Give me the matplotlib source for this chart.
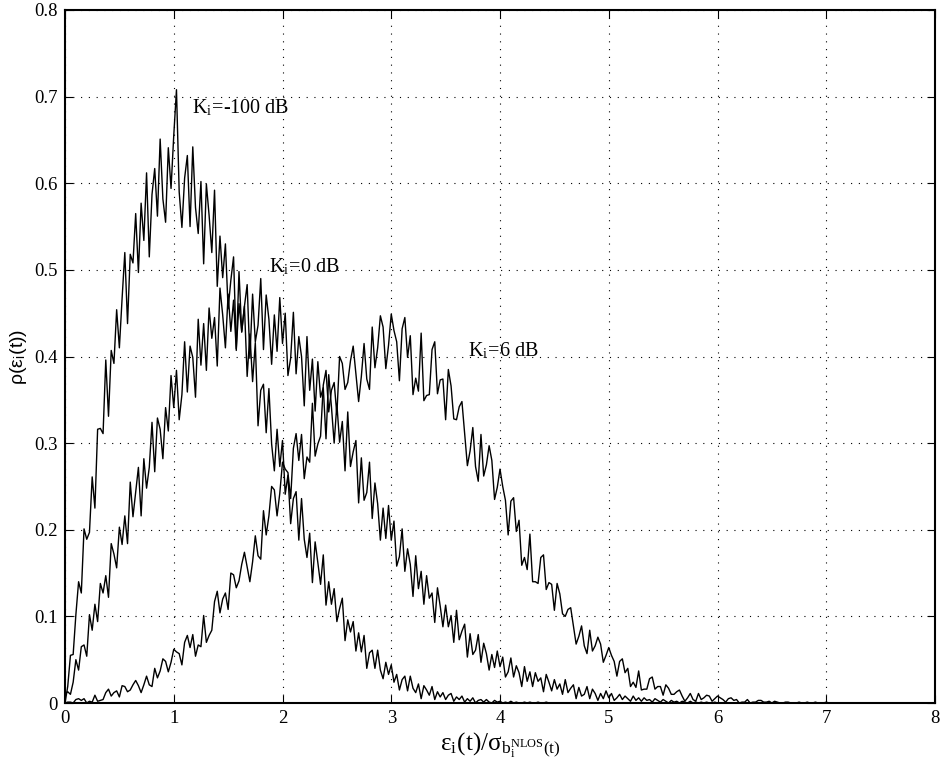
import numpy as np
import matplotlib
matplotlib.use("Agg")
import matplotlib.pyplot as plt

plt.rcParams['font.family'] = ['Liberation Serif', 'DejaVu Serif']
plt.rcParams['mathtext.fontset'] = 'stix'

bin_width = 0.025

# K_i = -100 dB  (histogram values, x = 0 .. 4.5)
pdf_k_m100 = [
    0.000, 0.019, 0.055, 0.056, 0.102, 0.140, 0.127, 0.201, 0.189, 0.197,
    0.261, 0.225, 0.316, 0.317, 0.311, 0.396, 0.331, 0.407, 0.392, 0.454,
    0.410, 0.467, 0.520, 0.438, 0.518, 0.508, 0.565, 0.497, 0.577, 0.534,
    0.612, 0.515, 0.587, 0.617, 0.562, 0.651, 0.582, 0.555, 0.641, 0.594,
    0.655, 0.708, 0.590, 0.549, 0.606, 0.632, 0.550, 0.642, 0.572, 0.542,
    0.602, 0.507, 0.599, 0.563, 0.520, 0.592, 0.481, 0.539, 0.491, 0.530,
    0.455, 0.488, 0.515, 0.409, 0.461, 0.429, 0.458, 0.377, 0.426, 0.371,
    0.416, 0.320, 0.361, 0.368, 0.312, 0.363, 0.299, 0.268, 0.316, 0.273,
    0.303, 0.241, 0.263, 0.207, 0.236, 0.244, 0.188, 0.236, 0.189, 0.168,
    0.196, 0.139, 0.186, 0.162, 0.137, 0.171, 0.113, 0.140, 0.114, 0.132,
    0.094, 0.109, 0.121, 0.072, 0.096, 0.082, 0.094, 0.060, 0.081, 0.059,
    0.078, 0.040, 0.058, 0.061, 0.040, 0.061, 0.038, 0.028, 0.047, 0.033,
    0.044, 0.024, 0.033, 0.015, 0.027, 0.031, 0.014, 0.031, 0.017, 0.012,
    0.022, 0.005, 0.020, 0.015, 0.009, 0.019, 0.004, 0.013, 0.007, 0.012,
    0.004, 0.009, 0.011, 0.002, 0.007, 0.004, 0.008, 0.001, 0.005, 0.002,
    0.006, 0.000, 0.003, 0.004, 0.001, 0.004, 0.001, 0.000, 0.003, 0.001,
    0.002, 0.000, 0.001, 0.000, 0.002, 0.000, 0.001, 0.000, 0.000, 0.001,
    0.000, 0.001, 0.000, 0.000, 0.001, 0.000, 0.000, 0.001, 0.000, 0.000,
    0.000,
]

# K_i = 0 dB  (x = 0 .. 6.0)
pdf_k_0 = [
    0.010, 0.013, 0.010, 0.024, 0.050, 0.038, 0.065, 0.067, 0.054, 0.102,
    0.084, 0.114, 0.094, 0.138, 0.127, 0.147, 0.122, 0.184, 0.172, 0.156,
    0.203, 0.183, 0.216, 0.184, 0.255, 0.215, 0.244, 0.272, 0.216, 0.282,
    0.248, 0.272, 0.324, 0.267, 0.329, 0.316, 0.282, 0.341, 0.314, 0.378,
    0.341, 0.384, 0.327, 0.356, 0.417, 0.359, 0.412, 0.399, 0.353, 0.443,
    0.390, 0.438, 0.384, 0.456, 0.421, 0.445, 0.389, 0.479, 0.448, 0.410,
    0.472, 0.429, 0.465, 0.407, 0.498, 0.428, 0.458, 0.483, 0.398, 0.472,
    0.417, 0.436, 0.490, 0.408, 0.471, 0.443, 0.391, 0.448, 0.406, 0.468,
    0.415, 0.450, 0.378, 0.398, 0.451, 0.380, 0.423, 0.400, 0.343, 0.423,
    0.361, 0.397, 0.337, 0.394, 0.353, 0.364, 0.305, 0.379, 0.342, 0.300,
    0.345, 0.301, 0.325, 0.268, 0.336, 0.273, 0.290, 0.303, 0.231, 0.283,
    0.234, 0.243, 0.278, 0.213, 0.254, 0.230, 0.188, 0.225, 0.190, 0.228,
    0.188, 0.210, 0.158, 0.169, 0.201, 0.152, 0.178, 0.160, 0.123, 0.170,
    0.132, 0.152, 0.114, 0.147, 0.121, 0.127, 0.093, 0.133, 0.112, 0.088,
    0.113, 0.088, 0.101, 0.070, 0.107, 0.073, 0.083, 0.091, 0.053, 0.080,
    0.056, 0.061, 0.079, 0.047, 0.069, 0.057, 0.038, 0.056, 0.041, 0.060,
    0.042, 0.053, 0.030, 0.036, 0.052, 0.030, 0.043, 0.035, 0.019, 0.042,
    0.025, 0.036, 0.019, 0.035, 0.025, 0.029, 0.013, 0.033, 0.024, 0.014,
    0.027, 0.016, 0.022, 0.010, 0.027, 0.012, 0.017, 0.021, 0.005, 0.018,
    0.008, 0.010, 0.019, 0.005, 0.016, 0.011, 0.003, 0.011, 0.005, 0.014,
    0.006, 0.011, 0.003, 0.006, 0.010, 0.004, 0.008, 0.005, 0.002, 0.008,
    0.003, 0.006, 0.002, 0.006, 0.003, 0.004, 0.001, 0.005, 0.003, 0.001,
    0.004, 0.002, 0.000, 0.003, 0.001, 0.002, 0.000, 0.002, 0.001, 0.000,
    0.002, 0.000, 0.001, 0.000, 0.001, 0.000, 0.001, 0.000, 0.000, 0.001,
    0.000,
]

# K_i = 6 dB  (x = 0 .. 7.2)
pdf_k_6 = [
    0.000, 0.001, 0.001, 0.000, 0.004, 0.005, 0.003, 0.005, 0.000, 0.002,
    0.001, 0.009, 0.002, 0.003, 0.004, 0.012, 0.016, 0.008, 0.012, 0.014,
    0.007, 0.020, 0.019, 0.013, 0.015, 0.021, 0.026, 0.020, 0.012, 0.021,
    0.031, 0.021, 0.019, 0.040, 0.029, 0.037, 0.051, 0.048, 0.036, 0.047,
    0.062, 0.059, 0.057, 0.044, 0.070, 0.078, 0.064, 0.079, 0.054, 0.067,
    0.065, 0.101, 0.070, 0.078, 0.084, 0.117, 0.129, 0.104, 0.120, 0.127,
    0.108, 0.150, 0.148, 0.133, 0.141, 0.160, 0.174, 0.157, 0.140, 0.163,
    0.193, 0.170, 0.166, 0.222, 0.194, 0.216, 0.250, 0.246, 0.216, 0.242,
    0.278, 0.270, 0.266, 0.236, 0.294, 0.311, 0.280, 0.310, 0.259, 0.284,
    0.278, 0.346, 0.285, 0.299, 0.308, 0.367, 0.384, 0.336, 0.361, 0.370,
    0.333, 0.400, 0.392, 0.362, 0.370, 0.395, 0.412, 0.380, 0.348, 0.377,
    0.415, 0.374, 0.362, 0.434, 0.387, 0.410, 0.447, 0.434, 0.386, 0.413,
    0.449, 0.430, 0.417, 0.372, 0.432, 0.445, 0.399, 0.424, 0.356, 0.375,
    0.360, 0.427, 0.349, 0.355, 0.356, 0.408, 0.417, 0.357, 0.373, 0.374,
    0.327, 0.385, 0.366, 0.328, 0.327, 0.342, 0.348, 0.311, 0.274, 0.291,
    0.318, 0.273, 0.256, 0.310, 0.262, 0.275, 0.297, 0.280, 0.235, 0.249,
    0.270, 0.250, 0.234, 0.194, 0.233, 0.237, 0.198, 0.211, 0.159, 0.168,
    0.154, 0.195, 0.140, 0.140, 0.138, 0.168, 0.171, 0.131, 0.139, 0.137,
    0.107, 0.138, 0.126, 0.103, 0.100, 0.108, 0.110, 0.089, 0.068, 0.077,
    0.089, 0.066, 0.057, 0.084, 0.060, 0.066, 0.076, 0.068, 0.047, 0.055,
    0.064, 0.055, 0.048, 0.031, 0.048, 0.051, 0.035, 0.040, 0.019, 0.024,
    0.018, 0.037, 0.015, 0.016, 0.016, 0.028, 0.030, 0.016, 0.019, 0.019,
    0.009, 0.021, 0.017, 0.010, 0.010, 0.013, 0.015, 0.008, 0.002, 0.006,
    0.011, 0.004, 0.002, 0.011, 0.004, 0.006, 0.009, 0.008, 0.002, 0.005,
    0.008, 0.006, 0.004, 0.001, 0.005, 0.006, 0.003, 0.004, 0.000, 0.001,
    0.001, 0.004, 0.000, 0.001, 0.001, 0.003, 0.003, 0.001, 0.001, 0.002,
    0.000, 0.002, 0.001, 0.000, 0.000, 0.001, 0.001, 0.000, 0.000, 0.000,
    0.001, 0.000, 0.000, 0.001, 0.000, 0.000, 0.001, 0.000, 0.000, 0.000,
    0.001, 0.000, 0.000, 0.000, 0.000, 0.000, 0.000, 0.000, 0.000,
]

curve_labels = ['K$_\\mathregular{i}$=-100 dB', 'K$_\\mathregular{i}$=0 dB',
                'K$_\\mathregular{i}$=6 dB']
label_pos = [(1.17, 0.681), (1.88, 0.497), (3.71, 0.400)]

x_ticks = [0, 1, 2, 3, 4, 5, 6, 7, 8]
y_ticks = [0, 0.1, 0.2, 0.3, 0.4, 0.5, 0.6, 0.7, 0.8]
y_tick_labels = ['0', '0.1', '0.2', '0.3', '0.4', '0.5', '0.6', '0.7', '0.8']

fig = plt.figure(figsize=(9.4, 7.74), dpi=100)
ax = fig.add_axes([65 / 940, 71 / 774, 870 / 940, 693 / 774])

for vals in (pdf_k_m100, pdf_k_0, pdf_k_6):
    x = bin_width * np.arange(len(vals))
    ax.plot(x, vals, color='black', lw=1.0)

for txt, (tx, ty) in zip(curve_labels, label_pos):
    ax.text(tx, ty, txt, fontsize=14.5, ha='left', va='baseline')

ax.set_xlim(0, 8)
ax.set_ylim(0, 0.8)
ax.set_xticks(x_ticks)
ax.set_xticklabels([str(t) for t in x_ticks])
ax.set_yticks(y_ticks)
ax.set_yticklabels(y_tick_labels)
ax.tick_params(direction='in', top=True, right=True, labelsize=13.5, length=6,
               width=0.8, pad=5)
ax.grid(True, color='black', linestyle=(0, (1, 6)), linewidth=0.8)
for s in ax.spines.values():
    s.set_linewidth(1.5)

ax.set_xlabel('ε$_\\mathregular{i}$(t)/σ$_{\\mathregular{b}_\\mathregular{i}'
              '^{\\mathregular{NLOS}}\\mathregular{(t)}}$',
              fontsize=18, labelpad=2)
ax.set_ylabel('ρ(ε$_\\mathregular{i}$(t))', fontsize=14, labelpad=4,
              family=['Liberation Sans', 'DejaVu Sans'])

fig.savefig('out.png', dpi=100)
